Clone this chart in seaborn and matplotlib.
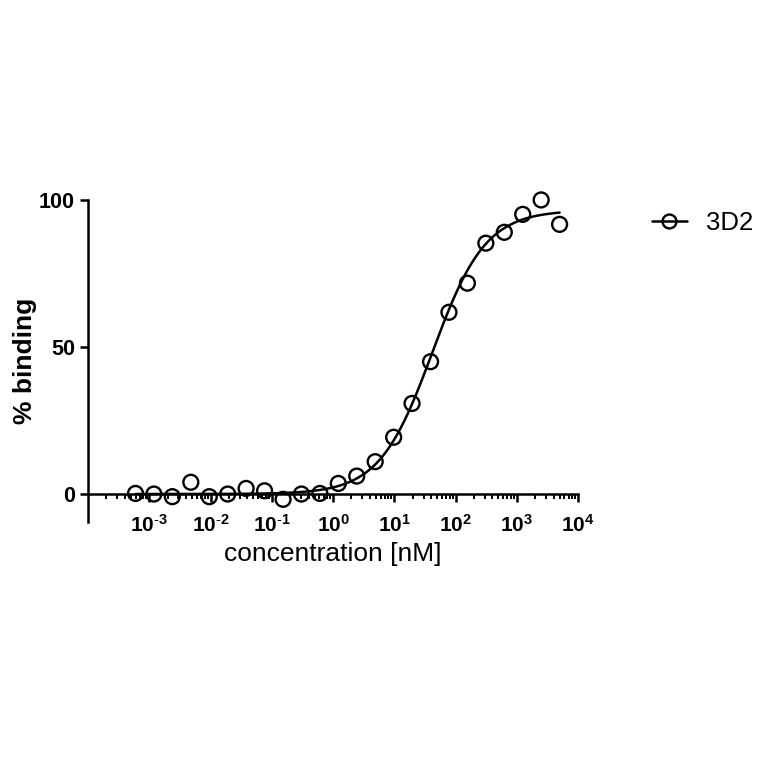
import numpy as np
import pandas as pd
import seaborn as sns
import matplotlib.pyplot as plt
from matplotlib.lines import Line2D

# data (3D2 binding titration)
conc_nM = [0.000596, 0.00119, 0.00238, 0.00477, 0.00954, 0.0191, 0.0381, 0.0763,
           0.153, 0.305, 0.61, 1.22, 2.44, 4.88, 9.77, 19.5, 39.1, 78.1,
           156.25, 312.5, 625, 1250, 2500, 5000]
binding = [0.2, 0.0, -0.9, 4.0, -0.9, 0.0, 1.9, 1.1, -1.8, 0.0, 0.2, 3.6,
           6.1, 11.0, 19.3, 30.8, 45.0, 61.8, 71.7, 85.3, 89.0, 95.1, 100.0, 91.7]
series_name = "3D2"

# four parameter logistic fit (values estimated from the drawn curve)
fit_bottom = 0.0
fit_top = 96.5
fit_ec50 = 42.0
fit_hill = 1.0

x_ticks = [1e-3, 1e-2, 1e-1, 1e0, 1e1, 1e2, 1e3, 1e4]
x_ticklabels = [r"$\mathbf{10^{\text{-}3}}$", r"$\mathbf{10^{\text{-}2}}$", r"$\mathbf{10^{\text{-}1}}$",
                r"$\mathbf{10^{0}}$", r"$\mathbf{10^{1}}$", r"$\mathbf{10^{2}}$",
                r"$\mathbf{10^{3}}$", r"$\mathbf{10^{4}}$"]
y_ticks = [0, 50, 100]

df = pd.DataFrame({"conc": conc_nM, "binding": binding})
xfit = np.logspace(np.log10(min(conc_nM)), np.log10(max(conc_nM)), 300)
yfit = fit_bottom + (fit_top - fit_bottom) / (1 + (fit_ec50 / xfit) ** fit_hill)
df_fit = pd.DataFrame({"conc": xfit, "binding": yfit})

sns.set_style("ticks", {"axes.edgecolor": "black", "text.color": "black",
                        "axes.labelcolor": "black", "xtick.color": "black",
                        "ytick.color": "black"})
plt.rcParams["font.family"] = ["Liberation Sans", "DejaVu Sans"]
plt.rcParams["mathtext.fontset"] = "custom"
plt.rcParams["mathtext.rm"] = "Liberation Sans"
plt.rcParams["mathtext.bf"] = "Liberation Sans:bold"

fig = plt.figure(figsize=(7.64, 7.64), dpi=100)
ax = fig.add_axes([0.1152, 0.3168, 0.6414, 0.4215])

sns.lineplot(data=df_fit, x="conc", y="binding", ax=ax, color="black",
             linewidth=1.8, clip_on=False)
sns.scatterplot(data=df, x="conc", y="binding", ax=ax, s=115, marker="o",
                facecolor="none", edgecolor="black", linewidth=1.7,
                clip_on=False, zorder=5)

ax.set_xscale("log")
ax.set_xlim(1e-4, 1e4)
ax.set_ylim(-9.5, 100)

# prism style: x axis crosses at y = 0
ax.spines["bottom"].set_position(("data", 0))
ax.spines["top"].set_visible(False)
ax.spines["right"].set_visible(False)
for s in ["left", "bottom"]:
    ax.spines[s].set_linewidth(1.8)

ax.set_xticks(x_ticks)
ax.set_xticklabels(x_ticklabels, fontsize=15)
ax.set_yticks(y_ticks)
ax.set_yticklabels([str(v) for v in y_ticks], fontsize=15.5, fontweight="bold")
ax.tick_params(axis="both", which="major", direction="out", length=6, width=1.8)
ax.tick_params(axis="x", which="minor", direction="out", length=3.5, width=1.4)
ax.tick_params(axis="x", which="major", pad=8)

ax.set_xlabel("concentration [nM]", fontsize=19, labelpad=5)
ax.set_ylabel("% binding", fontsize=19, fontweight="bold", labelpad=1)

handle = Line2D([], [], color="black", linewidth=1.8, marker="o", markersize=10,
                markerfacecolor="none", markeredgecolor="black", markeredgewidth=1.7)
fig.legend([handle], [series_name], loc="center left", bbox_to_anchor=(0.823, 0.708),
           frameon=False, fontsize=18.5, handlelength=1.37, handletextpad=0.74)

fig.savefig("out.png", dpi=100)
